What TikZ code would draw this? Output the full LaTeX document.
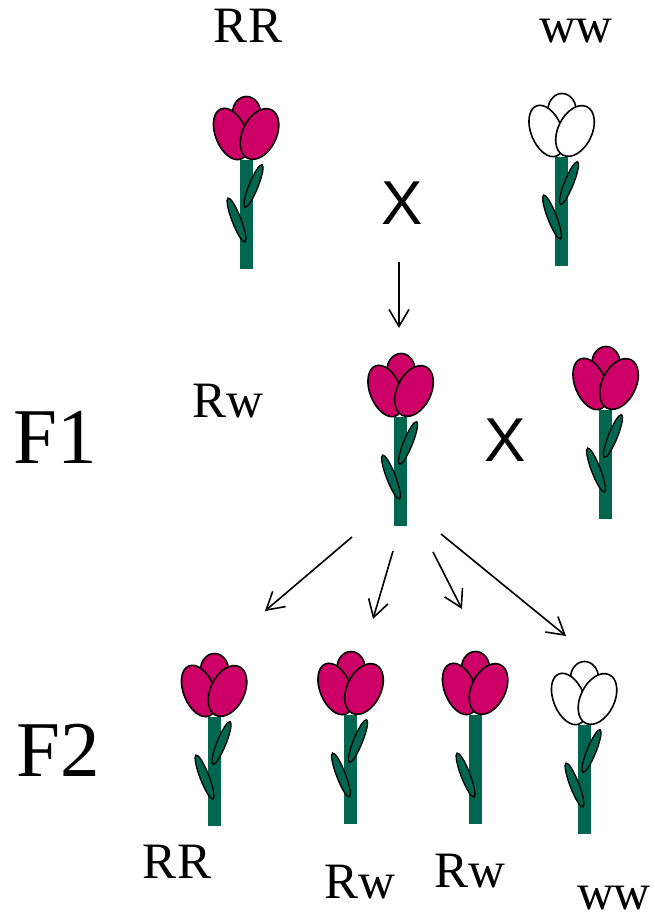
\documentclass[tikz,border=0pt]{standalone}
\usepackage{fontspec}
\setmainfont{Liberation Serif}
\newfontfamily\xfont{Liberation Sans}
\usetikzlibrary{arrows.meta}
\definecolor{petalred}{RGB}{204,0,102}
\definecolor{stemgreen}{RGB}{0,102,80}
\tikzset{
  petal/.style={draw=black, line width=1.6pt},
  leaf/.style={draw=black, fill=stemgreen, line width=1.3pt},
  arr/.style={line width=1.6pt, -{Straight Barb[length=17pt,width=20pt,line width=1.6pt]}},
  gen/.style={font=\fontsize{51}{51}\selectfont, anchor=base, inner sep=0pt},
  gentitle/.style={font=\fontsize{79}{79}\selectfont, anchor=base west, inner sep=0pt},
  cross/.style={font=\xfont\fontsize{62}{62}\selectfont, anchor=base, inner sep=0pt},
  % tulip: #1 = petal colour, #2 = 1 if the upper leaf is drawn
  pics/tulip/.style n args={2}{code={
    \fill[stemgreen] (-6.5,0) rectangle (6.5,-109);
    \ifnum#2=1
      \draw[leaf, shift={(7.5,-26)}, rotate=-22] (0,0) ellipse [x radius=4.5, y radius=23];
    \fi
    \draw[leaf, shift={(-9.5,-60)}, rotate=21] (0,0) ellipse [x radius=4.5, y radius=23.5];
    \draw[petal, fill=#1] (0.5,47) ellipse [x radius=14, y radius=16.5];
    \draw[petal, fill=#1, shift={(-15,26)}, rotate=22] (0,0) ellipse [x radius=15.5, y radius=27];
    \draw[petal, fill=#1, shift={(13.5,26)}, rotate=-26] (0,0) ellipse [x radius=17, y radius=27];
  }}
}
\begin{document}
\begin{tikzpicture}[x=1pt,y=1pt]
  \useasboundingbox (0,0) rectangle (655,921);

  % parents
  \pic at (246,761) {tulip={petalred}{1}};
  \pic at (561.5,764) {tulip={white}{1}};
  \node[gen] (pRR) at (248,878) {RR};
  \node[gen] (pww) at (576,878) {ww};
  \node[cross] (x1) at (402,696) {X};

  % F1 generation
  \pic at (400.5,504) {tulip={petalred}{1}};
  \pic at (605.5,511) {tulip={petalred}{1}};
  \node[gen] (f1Rw) at (228,503) {Rw};
  \node[gentitle] (F1) at (13,457) {F1};
  \node[cross] (x2) at (505,459) {X};

  % F2 generation
  \pic at (214,204) {tulip={petalred}{1}};
  \pic at (350.5,206) {tulip={petalred}{1}};
  \pic at (475,206) {tulip={petalred}{0}};
  \pic at (584,196) {tulip={white}{1}};
  \node[gentitle] (F2) at (16,144) {F2};
  \node[gen] (cRR) at (177,42) {RR};
  \node[gen] (cRw1) at (360,22) {Rw};
  \node[gen] (cRw2) at (470,33) {Rw};
  \node[gen] (cww) at (614,12) {ww};

  % arrow end points
  \coordinate (t0) at (399,659);
  \coordinate (t1) at (399,593);
  \coordinate (s1) at (352,384);
  \coordinate (e1) at (265,310);
  \coordinate (s2) at (393,370);
  \coordinate (e2) at (373,302);
  \coordinate (s3) at (433,369);
  \coordinate (e3) at (462,312);
  \coordinate (s4) at (441,387);
  \coordinate (e4) at (566,285);

  \draw[arr] (t0) -- (t1);
  \draw[arr] (s1) -- (e1);
  \draw[arr] (s2) -- (e2);
  \draw[arr] (s3) -- (e3);
  \draw[arr] (s4) -- (e4);
\end{tikzpicture}
\end{document}
